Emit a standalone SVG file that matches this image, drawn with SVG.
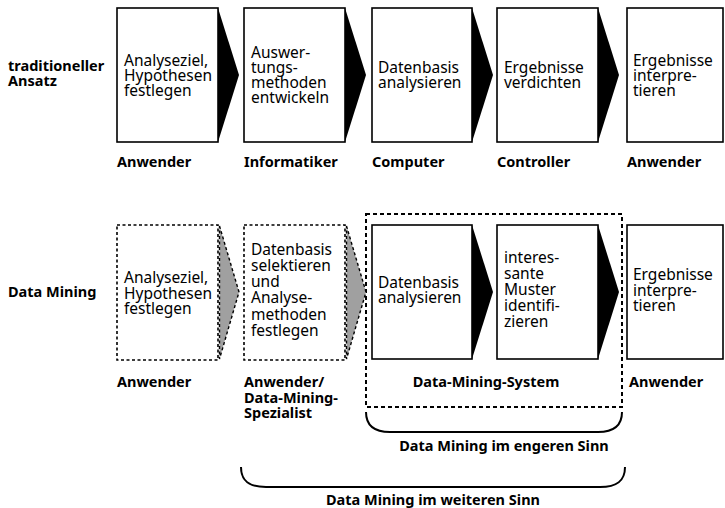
<svg xmlns="http://www.w3.org/2000/svg" width="725" height="508" viewBox="0 0 725 508">
<style>
.box{fill:#fff;stroke:#000;stroke-width:1.6}
.dbox{fill:#fff;stroke:#000;stroke-width:1.6;stroke-dasharray:3 2.5}
.tri{fill:#000;stroke:none}
.gtri{fill:#a0a0a0;stroke:#000;stroke-width:1.4;stroke-dasharray:3 2.5}
.t{font-family:"Noto Sans","DejaVu Sans",sans-serif;font-size:15.5px;fill:#000}
.b{font-family:"Noto Sans","DejaVu Sans",sans-serif;font-size:14.5px;font-weight:bold;fill:#000}
.brace{fill:none;stroke:#000;stroke-width:2}
.sys{fill:none;stroke:#000;stroke-width:2;stroke-dasharray:4 3}
</style>
<rect width="725" height="508" fill="#fff"/>

<g id="rowlabels">
<text class="b" x="8" y="71">traditioneller</text>
<text class="b" x="8" y="86">Ansatz</text>
<text class="b" x="8" y="297">Data Mining</text>
</g>

<!-- top row -->
<g id="t1">
<rect class="box" x="117" y="8" width="101" height="134"/>
<text class="t" x="124"><tspan x="124" y="65.5">Analyseziel,</tspan><tspan x="124" y="80.5">Hypothesen</tspan><tspan x="124" y="95.5">festlegen</tspan></text>
<text class="b" x="117" y="167">Anwender</text>
</g>
<g id="t2">
<rect class="box" x="244" y="8" width="101" height="134"/>
<text class="t"><tspan x="251" y="58">Auswer-</tspan><tspan x="251" y="73">tungs-</tspan><tspan x="251" y="88">methoden</tspan><tspan x="251" y="103">entwickeln</tspan></text>
<text class="b" x="244" y="167">Informatiker</text>
</g>
<g id="t3">
<rect class="box" x="372" y="8" width="100" height="134"/>
<text class="t"><tspan x="378" y="73">Datenbasis</tspan><tspan x="378" y="88">analysieren</tspan></text>
<text class="b" x="372" y="167">Computer</text>
</g>
<g id="t4">
<rect class="box" x="497" y="8" width="101" height="134"/>
<text class="t"><tspan x="504" y="73">Ergebnisse</tspan><tspan x="504" y="88">verdichten</tspan></text>
<text class="b" x="497" y="167">Controller</text>
</g>
<g id="t5">
<rect class="box" x="627" y="8" width="96" height="134"/>
<text class="t"><tspan x="633" y="65.5">Ergebnisse</tspan><tspan x="633" y="80.5">interpre-</tspan><tspan x="633" y="95.5">tieren</tspan></text>
<text class="b" x="627" y="167">Anwender</text>
</g>

<!-- bottom row -->
<g id="system">
<rect class="sys" x="366" y="214" width="256" height="193"/>
<text class="b" x="486" y="387" text-anchor="middle">Data-Mining-System</text>
</g>
<g id="d1">
<rect class="dbox" x="117" y="225" width="101" height="135"/>
<text class="t"><tspan x="124" y="283">Analyseziel,</tspan><tspan x="124" y="298.5">Hypothesen</tspan><tspan x="124" y="314">festlegen</tspan></text>
<text class="b" x="117" y="387">Anwender</text>
</g>
<g id="d2">
<rect class="dbox" x="244" y="225" width="101" height="135"/>
<text class="t"><tspan x="251" y="255">Datenbasis</tspan><tspan x="251" y="271">selektieren</tspan><tspan x="251" y="287">und</tspan><tspan x="251" y="303">Analyse-</tspan><tspan x="251" y="319.5">methoden</tspan><tspan x="251" y="336">festlegen</tspan></text>
<text class="b"><tspan x="244" y="387">Anwender/</tspan><tspan x="244" y="402.5">Data-Mining-</tspan><tspan x="244" y="418">Spezialist</tspan></text>
</g>
<g id="d3">
<rect class="box" x="372" y="225" width="100" height="134"/>
<text class="t"><tspan x="378" y="288">Datenbasis</tspan><tspan x="378" y="303">analysieren</tspan></text>
</g>
<g id="d4">
<rect class="box" x="497" y="225" width="101" height="134"/>
<text class="t"><tspan x="504" y="263">interes-</tspan><tspan x="504" y="279">sante</tspan><tspan x="504" y="295">Muster</tspan><tspan x="504" y="311">identifi-</tspan><tspan x="504" y="327">zieren</tspan></text>
</g>
<g id="d5">
<rect class="box" x="627" y="225" width="96" height="134"/>
<text class="t"><tspan x="633" y="280">Ergebnisse</tspan><tspan x="633" y="295.5">interpre-</tspan><tspan x="633" y="311">tieren</tspan></text>
<text class="b" x="629" y="387">Anwender</text>
</g>

<g id="connectors">
<polygon class="tri" points="218,8 239,75 218,142"/>
<polygon class="tri" points="345,8 366,75 345,142"/>
<polygon class="tri" points="472,8 493,75 472,142"/>
<polygon class="tri" points="598,8 619,75 598,142"/>
<polygon class="gtri" points="219.5,226 239,292 219.5,359"/>
<polygon class="gtri" points="346.5,226 366,292 346.5,359"/>
<polygon class="tri" points="472,225 493,292 472,359"/>
<polygon class="tri" points="598,225 619,292 598,359"/>
</g>

<g id="brace-narrow">
<path class="brace" d="M366,412 C366,426 374,432 390,432 L598,432 C614,432 622,426 622,412"/>
<text class="b" x="504" y="451" text-anchor="middle">Data Mining im engeren Sinn</text>
</g>
<g id="brace-wide">
<path class="brace" d="M241,467 C241,481 249,487 266,487 L600,487 C617,487 625,481 625,467"/>
<text class="b" x="433" y="505" text-anchor="middle">Data Mining im weiteren Sinn</text>
</g>
</svg>
